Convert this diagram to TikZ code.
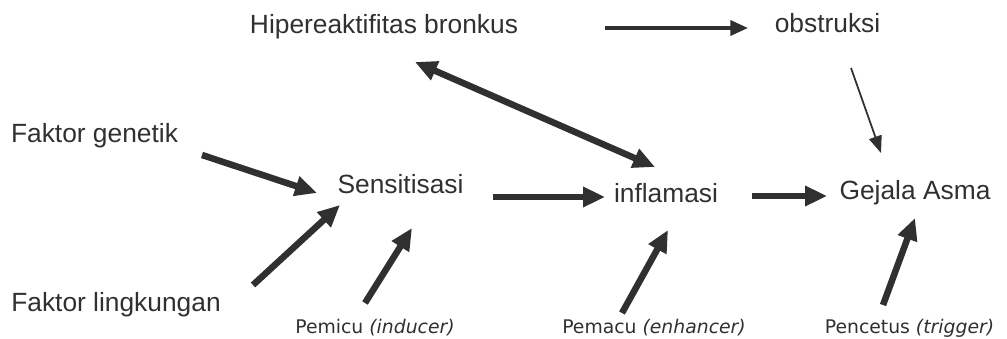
\documentclass[tikz,border=0pt]{standalone}
\usepackage{fontspec}
\setmainfont{Liberation Sans}
\newfontfamily\agentfont{DejaVu Sans}
\usepackage{tikz}
\usetikzlibrary{arrows.meta}
\definecolor{inkgray}{RGB}{48,48,48}

\begin{document}
\begin{tikzpicture}[x=0.02cm, y=-0.02cm,
    term/.style={font=\fontsize{15}{18}\selectfont, text=inkgray, inner sep=0pt, anchor=base},
    agent/.style={font=\agentfont\fontsize{10.7}{13}\selectfont, text=inkgray, inner sep=0pt, anchor=base},
    bigarrow/.style={draw=inkgray, line width=3.7pt, -{Triangle[length=12.5pt,width=11pt]}},
    midarrow/.style={draw=inkgray, line width=2pt, -{Triangle[length=10pt,width=8.5pt]}},
    thinarrow/.style={draw=inkgray, line width=1pt, -{Triangle[length=9.7pt,width=7.4pt]}}]
    \useasboundingbox (0,0) rectangle (1007,338);

    % terms
    \node[term] (hiper) at (384,33) {Hipereaktifitas bronkus};
    \node[term] (obs) at (827.5,32) {obstruksi};
    \node[term] (gen) at (94.5,142) {Faktor genetik};
    \node[term] (sens) at (400.5,193) {Sensitisasi};
    \node[term] (infl) at (666,202) {inflamasi};
    \node[term] (gejala) at (915,199) {Gejala Asma};
    \node[term] (lingk) at (116,311) {Faktor lingkungan};

    % agents along the bottom
    \node[agent] (pemicu) at (375,333) {Pemicu \textit{(inducer)}};
    \node[agent] (pemacu) at (654,333) {Pemacu \textit{(enhancer)}};
    \node[agent] (pencetus) at (909.5,333) {Pencetus \textit{(trigger)}};

    % arrows
    \draw[midarrow] ([shift={(221,-5)}]hiper.base) -- ([shift={(-79.5,-4)}]obs.base);
    \draw[bigarrow] ([shift={(107.5,13)}]gen.base) -- ([shift={(-83.5,0)}]sens.base);
    \draw[bigarrow] ([shift={(137,-26)}]lingk.base) -- ([shift={(-60.5,12)}]sens.base);
    \draw[bigarrow] ([shift={(-10,-30)}]pemicu.base) -- ([shift={(11.5,35)}]sens.base);
    \draw[bigarrow] ([shift={(92.5,4)}]sens.base) -- ([shift={(-61,-5)}]infl.base);
    \draw[bigarrow, {Triangle[length=12.5pt,width=11pt]}-{Triangle[length=12.5pt,width=11pt]}]
      ([shift={(31,29)}]hiper.base) -- ([shift={(-11,-35)}]infl.base);
    \draw[bigarrow] ([shift={(-32,-20)}]pemacu.base) -- ([shift={(2,28)}]infl.base);
    \draw[bigarrow] ([shift={(86,-6)}]infl.base) -- ([shift={(-88,-3)}]gejala.base);
    \draw[thinarrow] ([shift={(23.5,36)}]obs.base) -- ([shift={(-34,-46)}]gejala.base);
    \draw[bigarrow] ([shift={(-26.5,-28)}]pencetus.base) -- ([shift={(0,19)}]gejala.base);
\end{tikzpicture}
\end{document}
